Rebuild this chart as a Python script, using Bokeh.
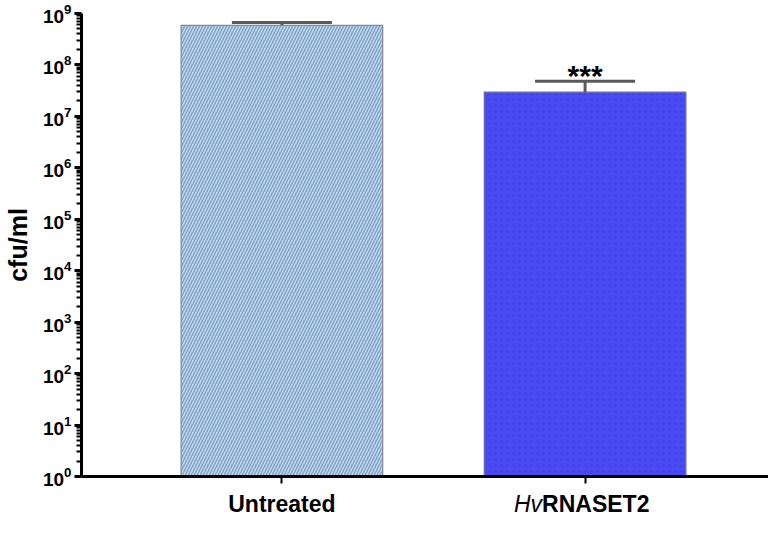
from bokeh.plotting import figure
from bokeh.layouts import column
from bokeh.models import Range1d, FixedTicker, ColumnDataSource
from bokeh.embed import file_html
from bokeh.resources import INLINE
from bokeh.core.properties import value

# data
groups = ["Untreated", "HvRNASET2"]
positions = [1, 2]
means = [5.9e8, 2.95e7]
upper_err = [6.7e8, 4.8e7]
significance = ["", "***"]
decades = list(range(0, 10))

FONT = "Liberation Sans"
XR = Range1d(0.339, 2.605)

p = figure(width=768, height=490, output_backend="svg", toolbar_location=None,
           y_axis_type="log", x_range=XR, y_range=Range1d(1, 1e9),
           min_border_left=79, min_border_right=0, min_border_top=13, min_border_bottom=14)
p.outline_line_color = None
p.grid.visible = False

bw = 0.665
src = ColumnDataSource(dict(x=positions, top=means, up=upper_err,
                            x0=[v - 0.165 for v in positions], x1=[v + 0.165 for v in positions],
                            sig=significance))
# untreated (hatched)
p.vbar(x=[positions[0]], top=[means[0]], bottom=1, width=bw,
       fill_color="#bed8f2", line_color="#808a94", line_width=1.2,
       hatch_pattern="right_diagonal_line", hatch_color="#84a2c2", hatch_scale=6, hatch_weight=1.4)
# treated (dotted blue)
p.vbar(x=[positions[1]], top=[means[1]], bottom=1, width=bw,
       fill_color="#4a4af4", line_color="#6a6aa8", line_width=1.2,
       hatch_pattern="dot", hatch_color="#3232c8", hatch_alpha=0.3, hatch_scale=6, hatch_weight=1)

# error bars
p.segment(x0="x", y0="top", x1="x", y1="up", source=src, line_color="#5a5a5a", line_width=3)
p.segment(x0="x0", y0="up", x1="x1", y1="up", source=src, line_color="#5a5a5a", line_width=3)

p.text(x="x", y="up", text="sig", source=src, text_font=value(FONT), text_font_style="bold",
       text_font_size="30px", text_align="center", text_baseline="alphabetic", y_offset=-6,
       text_color="black")

# axes
for ax in (p.xaxis[0], p.yaxis[0]):
    ax.axis_line_width = 3
    ax.axis_line_color = "black"
    ax.major_tick_line_width = 3
    ax.major_tick_line_color = "black"
    ax.major_tick_in = 0
    ax.major_tick_out = 7
    ax.major_label_text_font = FONT
    ax.major_label_text_font_style = "bold"
    ax.major_label_text_color = "black"

major = [10.0 ** d for d in decades]
minor = [k * 10.0 ** d for d in decades[:-1] for k in range(2, 10)]
p.yaxis.ticker = FixedTicker(ticks=major, minor_ticks=minor)
p.yaxis.minor_tick_in = 0
p.yaxis.minor_tick_out = 5
p.yaxis.minor_tick_line_width = 2
p.yaxis.minor_tick_line_color = "black"
p.yaxis.major_label_text_font_size = "19px"
p.yaxis.major_label_standoff = 3
p.yaxis.axis_label = "cfu/ml"
p.yaxis.axis_label_text_font = FONT
p.yaxis.axis_label_text_font_style = "bold"
p.yaxis.axis_label_text_font_size = "25px"
p.yaxis.axis_label_text_color = "black"
p.yaxis.axis_label_standoff = 8

p.xaxis.ticker = FixedTicker(ticks=positions)
p.xaxis.major_label_overrides = {1: "", 2: ""}
p.xaxis.major_label_text_font_size = "1px"
p.xaxis.major_label_standoff = 0
p.xaxis.minor_tick_line_color = None
p.xaxis.major_tick_line_width = 2

# category labels row (shares x range)
q = figure(width=768, height=27, output_backend="svg", toolbar_location=None,
           x_range=XR, y_range=Range1d(0, 27),
           min_border_left=79, min_border_right=0, min_border_top=0, min_border_bottom=0)
q.axis.visible = False
q.grid.visible = False
q.outline_line_color = None
lab = ColumnDataSource(dict(x=[positions[0], positions[1], positions[1]],
                            y=[14, 14, 14],
                            t=["Untreated", "Hv", "RNASET2"],
                            style=["bold", "italic", "bold"],
                            align=["center", "right", "left"],
                            dx=[0, -43, -43]))
q.text(x="x", y="y", text="t", source=lab, text_font=value(FONT), text_font_style="style",
       text_font_size="23px", text_align="align", text_baseline="middle", x_offset="dx",
       text_color="black")

layout = column(p, q, spacing=0)
open("out.html", "w").write(file_html(layout, INLINE))
